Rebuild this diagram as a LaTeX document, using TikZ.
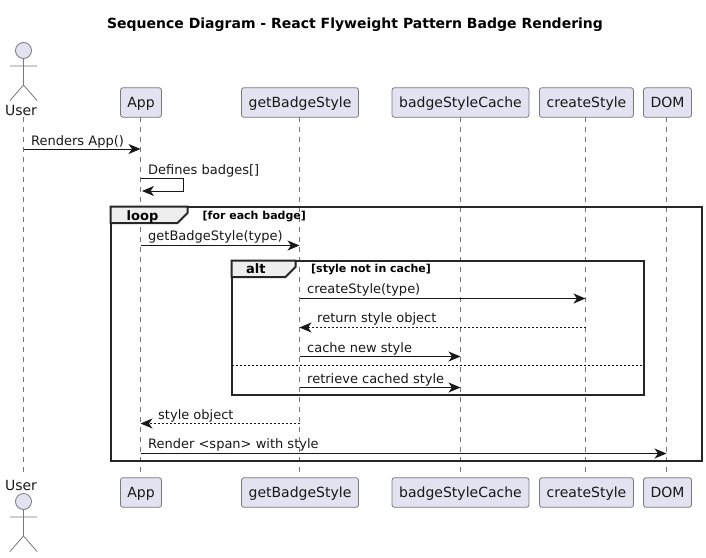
\documentclass[tikz,border=0pt]{standalone}
\usepackage{fontspec}
\setmainfont{DejaVu Sans}
\usetikzlibrary{arrows.meta}
\definecolor{pfill}{HTML}{E2E2F0}
\definecolor{pline}{HTML}{77777C}
\definecolor{lifeln}{HTML}{777777}
\definecolor{ink}{HTML}{181818}
\definecolor{tabfill}{HTML}{EEEEEE}
\tikzset{
  part/.style={draw=pline,fill=pfill,line width=0.8pt,rounded corners=2.5pt,inner sep=0pt,text=ink,font=\fontsize{14}{16}\selectfont,minimum height=29.5pt,text depth=0pt},
  actorlabel/.style={inner sep=0pt,anchor=base,text=ink,font=\fontsize{14}{16}\selectfont},
  actorline/.style={draw=pline,line width=0.8pt},
  actorhead/.style={draw=pline,fill=pfill,line width=0.8pt},
  life/.style={draw=lifeln,line width=0.6pt,dash pattern=on 5pt off 5pt},
  msg/.style={draw=ink,line width=0.9pt,-{Stealth[length=12pt,width=10pt,inset=3.5pt]}},
  ret/.style={msg,dash pattern=on 2pt off 2pt},
  mtext/.style={inner sep=0pt,anchor=base west,text=ink,font=\fontsize{13}{15}\selectfont},
  frm/.style={draw=black!85,line width=2pt},
  tabshape/.style={draw=black!85,fill=tabfill,line width=2pt},
  ftitle/.style={inner sep=0pt,anchor=base west,text=black,font=\fontsize{13}{15}\selectfont\bfseries},
  fguard/.style={inner sep=0pt,anchor=base west,text=black,font=\fontsize{11}{13}\selectfont\bfseries},
  sep/.style={draw=black,line width=0.7pt,dash pattern=on 2pt off 2pt}
}
\begin{document}
\begin{tikzpicture}[x=1pt,y=-1pt]
\useasboundingbox (0,0) rectangle (706,557);
\node[inner sep=0pt,anchor=base,font=\fontsize{14}{16}\selectfont\bfseries,text=black] (title) at (355,28) {Sequence Diagram - React Flyweight Pattern Badge Rendering};

% participants, top
\coordinate (userT) at (23.5,117);
\node[part,minimum width=41pt]  (appT)   at (141,102.5) {App};
\node[part,minimum width=117pt] (getT)   at (300,102.5) {getBadgeStyle};
\node[part,minimum width=137pt] (cacheT) at (460.5,102.5) {badgeStyleCache};
\node[part,minimum width=94pt]  (makeT)  at (586.5,102.5) {createStyle};
\node[part,minimum width=48pt]  (domT)   at (667.5,102.5) {DOM};
% participants, bottom
\coordinate (userB) at (23.5,473);
\node[part,minimum width=41pt]  (appB)   at (141,492.5) {App};
\node[part,minimum width=117pt] (getB)   at (300,492.5) {getBadgeStyle};
\node[part,minimum width=137pt] (cacheB) at (460.5,492.5) {badgeStyleCache};
\node[part,minimum width=94pt]  (makeB)  at (586.5,492.5) {createStyle};
\node[part,minimum width=48pt]  (domB)   at (667.5,492.5) {DOM};

% lifeline anchors
\coordinate (lu)  at (23.5,117);
\coordinate (la)  at (140.5,117);
\coordinate (lg)  at (299.5,117);
\coordinate (lc)  at (460.5,117);
\coordinate (lm)  at (585.5,117);
\coordinate (ld)  at (666.5,117);
\coordinate (lae) at (140.5,473);
\coordinate (lge) at (299.5,473);
\coordinate (lce) at (460.5,473);
\coordinate (lme) at (585.5,473);
\coordinate (lde) at (666.5,473);

\draw[life] (userT) -- (userB);
\draw[life] (la) -- (lae);
\draw[life] (lg) -- (lge);
\draw[life] (lc) -- (lce);
\draw[life] (lm) -- (lme);
\draw[life] (ld) -- (lde);

% actors
\draw[actorhead] (23.5,50.5) circle (8);
\draw[actorline] (23.5,58.5) -- (23.5,85) (10,66) -- (37,66) (10,100.5) -- (23.5,85) -- (37,100.5);
\node[actorlabel] (userTL) at (21,115) {User};
\node[actorlabel] (userBL) at (21,490) {User};
\draw[actorhead] (23.5,501.5) circle (8);
\draw[actorline] (23.5,509.5) -- (23.5,536) (10,517) -- (37,517) (10,551.5) -- (23.5,536) -- (37,551.5);

% loop frame
\draw[frm] (110.5,206.5) rectangle (701.5,461);
\draw[tabshape] (110.5,206.5) -- (187.5,206.5) -- (187.5,213) -- (177.5,223) -- (110.5,223) -- cycle;
\node[ftitle] (loopT) at (126.5,220) {loop};
\node[fguard] (loopG) at (202.5,219) {[for each badge]};
% alt frame
\draw[frm] (231.5,260.5) rectangle (643.5,395);
\draw[tabshape] (231.5,260.5) -- (295.5,260.5) -- (295.5,267) -- (285.5,277) -- (231.5,277) -- cycle;
\node[ftitle] (altT) at (246,273) {alt};
\node[fguard] (altG) at (311,272.5) {[style not in cache]};
\draw[sep] (231.5,365.5) -- (643.5,365.5);

% messages
\draw[msg] (lu |- 0,149) -- (la |- 0,149);
\node[mtext] (m1) at (31,145) {Renders App()};
\draw[msg] (la |- 0,178.5) -- (183.5,178.5) -- (183.5,191) -- (142,191);
\node[mtext] (m2) at (148,174) {Defines badges[]};
\draw[msg] (la |- 0,245.5) -- (lg |- 0,245.5);
\node[mtext] (m3) at (148,240) {getBadgeStyle(type)};
\draw[msg] (lg |- 0,298.5) -- (lm |- 0,298.5);
\node[mtext] (m4) at (307,293) {createStyle(type)};
\draw[ret] (lm |- 0,327.5) -- (lg |- 0,327.5);
\node[mtext] (m5) at (317,322) {return style object};
\draw[msg] (lg |- 0,356.5) -- (lc |- 0,356.5);
\node[mtext] (m6) at (307,352) {cache new style};
\draw[msg] (lg |- 0,387.5) -- (lc |- 0,387.5);
\node[mtext] (m7) at (307,383) {retrieve cached style};
\draw[ret] (lg |- 0,423.5) -- (la |- 0,423.5);
\node[mtext] (m8) at (158,419) {style object};
\draw[msg] (la |- 0,453.5) -- (ld |- 0,453.5);
\node[mtext] (m9) at (148,448) {Render <span> with style};
\end{tikzpicture}
\end{document}
